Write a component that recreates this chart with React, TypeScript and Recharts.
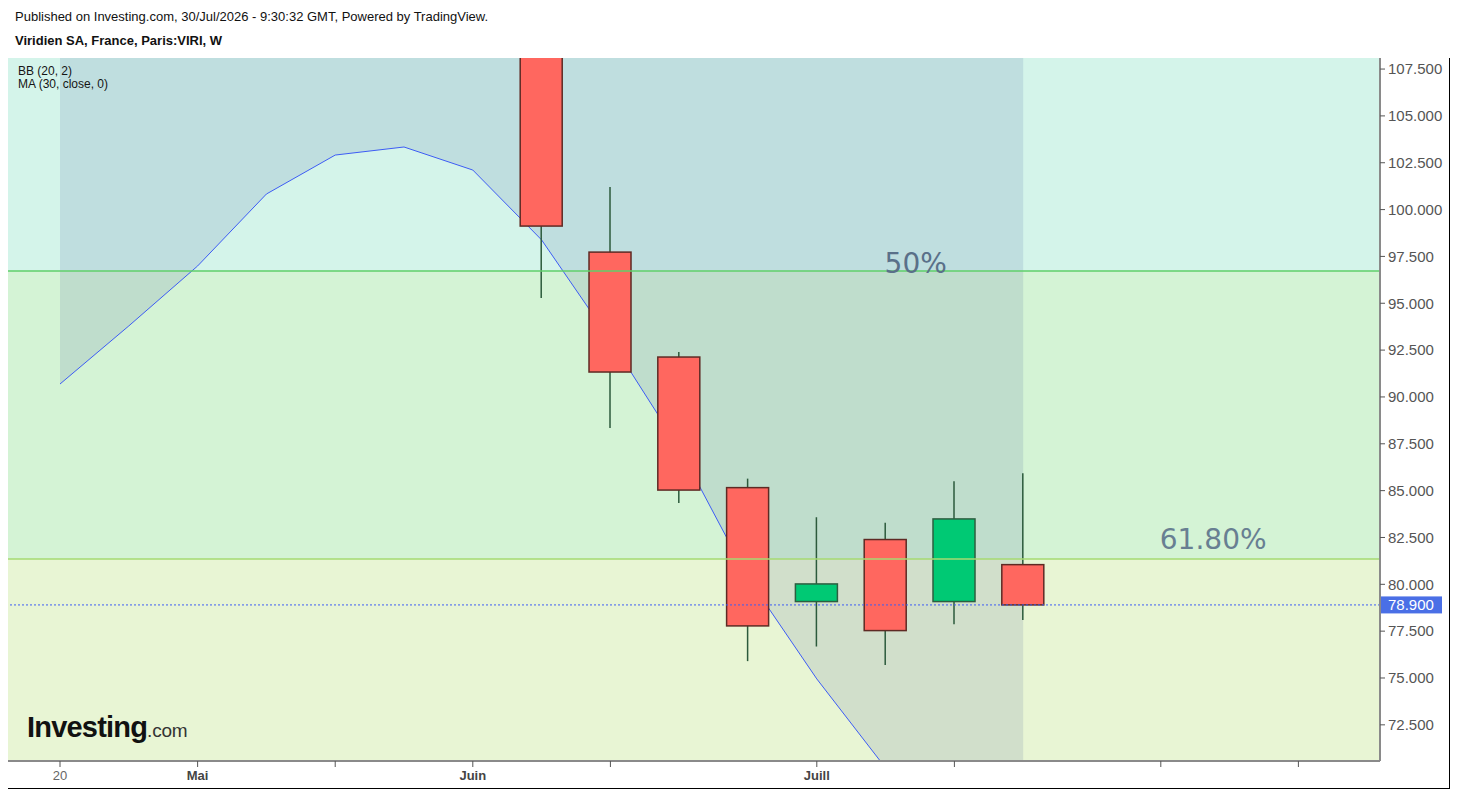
import React from 'react';
import {
  ComposedChart,
  Bar,
  Area,
  XAxis,
  YAxis,
  ReferenceArea,
  ReferenceLine,
  ReferenceDot,
} from 'recharts';

// ---- data ----
const weekIndex = [0, 1, 2, 3, 4, 5, 6, 7, 8, 9, 10, 11, 12, 13, 14];
const candleOpen = [null, null, null, null, null, null, null, 112.0, 97.73, 92.13, 85.16, 79.08, 82.39, 79.08, 81.05];
const candleHigh = [null, null, null, null, null, null, null, 113.5, 101.2, 92.4, 85.64, 83.58, 83.29, 85.5, 85.93];
const candleLow = [null, null, null, null, null, null, null, 95.28, 88.34, 84.34, 75.9, 76.68, 75.69, 77.87, 78.09];
const candleClose = [null, null, null, null, null, null, null, 99.12, 91.33, 85.03, 77.78, 80.02, 77.53, 83.49, 78.9];
const bbLower = [90.69, 93.79, 96.99, 100.83, 102.91, 103.34, 102.11, 98.38, 93.04, 87.28, 80.34, 74.95, 70.2, 66.0, 62.5];
const bbUpper = [124, 126, 127, 128, 128, 128, 128, 127, 126, 125, 124, 123, 121, 119, 117];

const yTicks = [72.5, 75, 77.5, 80, 82.5, 85, 87.5, 90, 92.5, 95, 97.5, 100, 102.5, 105, 107.5];
const xTickIdx = [0, 2, 4, 6, 8, 11, 13, 16, 18];
const xTickText = ['20', 'Mai', '', 'Juin', '', 'Juill', '', '', ''];
const xTickBold = [false, true, false, true, false, true, false, false, false];

const fib50 = 96.72;
const fib618 = 81.35;
const lastPrice = 78.9;
const yMin = 70.57;
const yMax = 108.09;
const xMin = -0.756;
const xMax = 19.186;

const data = weekIndex.map((w, i) => ({
  x: w,
  open: candleOpen[i],
  high: candleHigh[i],
  low: candleLow[i],
  close: candleClose[i],
  range: candleHigh[i] != null ? [candleLow[i], candleHigh[i]] : null,
  bb: [bbLower[i], bbUpper[i]],
}));

const FONT = '"Liberation Sans", Arial, Helvetica, sans-serif';

const Candle = (props: any) => {
  const { x, y, width, height, payload } = props;
  if (!payload || payload.range == null || height == null) return null;
  const { open, close, high, low } = payload;
  const top = Math.min(y, y + height);
  const bot = Math.max(y, y + height);
  const ppu = (bot - top) / (high - low);
  const yOf = (v: number) => top + (high - v) * ppu;
  const up = close >= open;
  const bTop = yOf(Math.max(open, close));
  const bBot = yOf(Math.min(open, close));
  const cx = x + width / 2;
  return (
    <g>
      <line x1={cx} x2={cx} y1={yOf(high)} y2={yOf(low)} stroke="#2c5a3c" strokeWidth={1.5} />
      <rect
        x={x}
        y={bTop}
        width={width}
        height={Math.max(bBot - bTop, 1)}
        fill={up ? '#00c974' : '#ff675f'}
        stroke={up ? '#2d5e40' : '#5e2a24'}
        strokeWidth={1.5}
      />
    </g>
  );
};

const XTick = (props: any) => {
  const { x, y, payload } = props;
  const i = xTickIdx.indexOf(payload.value);
  if (i < 0) return null;
  const bold = xTickBold[i];
  return (
    <text
      x={x}
      y={y + 11}
      textAnchor="middle"
      fontSize={13}
      fontFamily={FONT}
      fontWeight={bold ? 'bold' : 'normal'}
      fill={bold ? '#444' : '#666'}
    >
      {xTickText[i]}
    </text>
  );
};

const PriceLabel = (props: any) => {
  const vb = props.viewBox || {};
  const px = vb.x + vb.width + 1;
  const py = vb.y;
  return (
    <g>
      <rect x={px} y={py - 8.5} width={61} height={17} fill="#4a6fe6" />
      <text x={px + 7} y={py + 5.5} fontSize={15} fontFamily={FONT} fill="#ffffff">
        {lastPrice.toFixed(3)}
      </text>
    </g>
  );
};

const FibLabel = (text: string, dy: number, color: string) => (props: any) => {
  const vb = props.viewBox || {};
  return (
    <text x={vb.x - 1} y={vb.y + dy} fontSize={28} fontFamily='"DejaVu Sans", Verdana, sans-serif' fill={color}>
      {text}
    </text>
  );
};

export default function App() {
  return (
    <div style={{ position: 'relative', width: 1443, height: 781, fontFamily: FONT }}>
      <div style={{ position: 'absolute', left: 7, top: 1, fontSize: 13, lineHeight: '15px', color: '#111', whiteSpace: 'nowrap' }}>
        Published on Investing.com, 30/Jul/2026 - 9:30:32 GMT, Powered by TradingView.
      </div>
      <div style={{ position: 'absolute', left: 7, top: 25, fontSize: 13, lineHeight: '15px', fontWeight: 'bold', color: '#111', whiteSpace: 'nowrap' }}>
        Viridien SA, France, Paris:VIRI, W
      </div>
      <ComposedChart
        width={1442}
        height={780}
        data={data}
        margin={{ top: 50, right: 0, bottom: 0, left: 0 }}
        style={{ position: 'absolute', left: 0, top: 0 }}
      >
        <XAxis
          dataKey="x"
          type="number"
          domain={[xMin, xMax]}
          allowDataOverflow
          ticks={xTickIdx}
          interval={0}
          height={27}
          tick={<XTick />}
          tickSize={6}
          tickLine={{ stroke: '#555' }}
          axisLine={{ stroke: '#8a8a8a', strokeWidth: 2 }}
        />
        <YAxis
          orientation="right"
          type="number"
          domain={[yMin, yMax]}
          allowDataOverflow
          ticks={yTicks}
          interval={0}
          width={70}
          tickFormatter={(v: number) => v.toFixed(3)}
          tick={{ fill: '#555', fontSize: 15, fontFamily: FONT, textAnchor: 'start' }}
          tickSize={5}
          tickMargin={3}
          tickLine={{ stroke: '#555' }}
          axisLine={{ stroke: '#8a8a8a', strokeWidth: 2 }}
        />
        <ReferenceArea y1={fib50} y2={yMax} fill="#d4f4ea" fillOpacity={1} ifOverflow="hidden" />
        <ReferenceArea y1={fib618} y2={fib50} fill="#d4f3d5" fillOpacity={1} ifOverflow="hidden" />
        <ReferenceArea y1={yMin} y2={fib618} fill="#e8f5d4" fillOpacity={1} ifOverflow="hidden" />
        <ReferenceLine y={fib50} stroke="#5fcf6a" strokeWidth={1.5} />
        <ReferenceLine y={fib618} stroke="#a6da72" strokeWidth={1.5} />
        <Area
          dataKey="bb"
          type="linear"
          stroke="#3d5cf5"
          strokeWidth={1}
          fill="#1a2f8a"
          fillOpacity={0.11}
          isAnimationActive={false}
          dot={false}
          activeDot={false}
        />
        <Bar dataKey="range" barSize={42} shape={<Candle />} isAnimationActive={false} />
        <ReferenceLine y={lastPrice} stroke="#3d5cf5" strokeDasharray="2 2" strokeWidth={1} label={<PriceLabel />} />
        <ReferenceDot x={12} y={fib50} r={0} fill="none" stroke="none" label={FibLabel('50%', 1.5, '#5a7089')} />
        <ReferenceDot x={16} y={fib618} r={0} fill="none" stroke="none" label={FibLabel('61.80%', -10, '#687f92')} />
      </ComposedChart>
      <div style={{ position: 'absolute', left: 10, top: 57, fontSize: 12, lineHeight: '13px', color: '#151515', whiteSpace: 'nowrap' }}>
        <div>BB (20, 2)</div>
        <div>MA (30, close, 0)</div>
      </div>
      <div style={{ position: 'absolute', left: 19, top: 703, whiteSpace: 'nowrap', color: '#111' }}>
        <span style={{ fontSize: 29, fontWeight: 'bold', letterSpacing: -0.8 }}>Investing</span>
        <span style={{ fontSize: 19, color: '#333', letterSpacing: -0.2 }}>.com</span>
      </div>
      <div style={{ position: 'absolute', left: 1441, top: 50, width: 1.5, height: 731, background: '#000' }} />
      <div style={{ position: 'absolute', left: 0, top: 779.5, width: 1442.5, height: 1.5, background: '#000' }} />
    </div>
  );
}
